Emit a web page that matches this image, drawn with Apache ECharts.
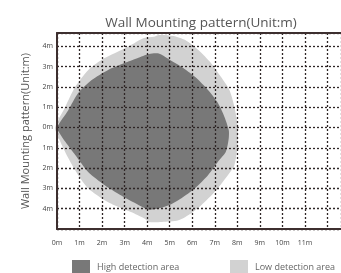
<!DOCTYPE html>
<html>
<head>
<meta charset="utf-8">
<script src="https://cdn.jsdelivr.net/npm/echarts@6/dist/echarts.min.js"></script>
<style>html,body{margin:0;padding:0;background:#fff}#c{width:341px;height:273px}</style>
</head>
<body>
<div id="c"></div>
<script>
const titleText = 'Wall Mounting pattern(Unit:m)';
const xTickLabels = ['0m','1m','2m','3m','4m','5m','6m','7m','8m','9m','10m','11m'];
const yTickLabels = ['4m','3m','2m','1m','0m','1m','2m','3m','4m'];
const seriesNames = ['High detection area', 'Low detection area'];

// outline of the low detection area (x in m, y in m)
const lowArea = [
  [-0.08,0],[0.37,1.02],[0.81,2.0],[1.38,2.82],[1.97,3.32],[2.85,3.81],[3.43,4.15],
  [3.86,4.40],[4.30,4.46],[4.52,4.55],[5.17,4.50],[5.69,4.30],[6.27,3.81],[6.83,3.17],
  [7.27,2.49],[7.65,1.84],[7.87,1.01],[8.01,0.11],[8.01,-0.87],[7.87,-1.86],[7.58,-2.35],
  [7.0,-3.17],[6.40,-3.83],[5.96,-4.22],[5.39,-4.57],[4.65,-4.65],[4.08,-4.65],[3.86,-4.47],
  [3.28,-4.16],[2.55,-3.83],[1.97,-3.48],[1.38,-2.99],[0.94,-2.35],[0.50,-1.51],[0.08,-0.53]
];
// outline of the high detection area
const highArea = [
  [0,0],[0.50,0.85],[0.94,1.69],[1.54,2.33],[2.25,2.82],[2.99,3.17],[3.56,3.41],[4.08,3.62],
  [4.52,3.64],[4.96,3.36],[5.52,2.99],[6.12,2.49],[6.70,1.84],[7.14,1.20],[7.43,0.52],
  [7.62,-0.13],[7.62,-0.53],[7.49,-1.20],[7.14,-1.69],[6.70,-2.35],[6.12,-2.99],[5.52,-3.48],
  [4.96,-3.83],[4.52,-3.98],[4.08,-4.05],[3.56,-3.78],[2.85,-3.35],[2.12,-2.84],[1.38,-2.19],
  [0.81,-1.36],[0.37,-0.71],[0.08,-0.22]
];

const FONT = '"Open Sans", "Noto Sans", sans-serif';
const gridLine = { show: true, lineStyle: { color: '#2e2626', type: [2, 2], width: 1.3 } };
const frameLine = { show: true, onZero: false, lineStyle: { color: '#3d2f2f', width: 2 } };

function polySeries(name, pts, color, z) {
  return {
    name: name,
    type: 'custom',
    z: z,
    itemStyle: { color: color },
    data: pts,
    renderItem: function (params, api) {
      if (params.dataIndex !== 0) return null;
      const points = pts.map(p => api.coord(p));
      return {
        type: 'polygon',
        shape: { points: points, smooth: 0.25 },
        style: { fill: color }
      };
    }
  };
}

const legendText = { fontFamily: FONT, fontSize: 9, color: '#666', padding: [0,0,0,2] };
const chart = echarts.init(document.getElementById('c'), null, { renderer: 'canvas' });
chart.setOption({
  animation: false,
  title: {
    text: titleText, left: 196, top: 11, textAlign: 'center',
    textStyle: { fontFamily: FONT, fontSize: 13.5, fontWeight: 'normal', color: '#555' }
  },
  legend: [
    { data: [seriesNames[0]], left: 67, top: 255, icon: 'rect', itemWidth: 18, itemHeight: 15, textStyle: legendText },
    { data: [seriesNames[1]], left: 225, top: 255, icon: 'rect', itemWidth: 18, itemHeight: 15, textStyle: legendText }
  ],
  grid: { left: 57, top: 33, width: 290, height: 196 },
  xAxis: [{
    type: 'value', min: 0, max: 12.6, interval: 1, z: 5,
    axisLine: frameLine, axisTick: { show: false }, splitLine: gridLine,
    axisLabel: {
      fontFamily: FONT, fontSize: 7, color: '#444', margin: 10,
      showMaxLabel: false,
      formatter: v => (Number.isInteger(v) && v >= 0 && v < xTickLabels.length) ? xTickLabels[v] : ''
    }
  }, {
    type: 'value', position: 'top', min: 0, max: 12.6, z: 6,
    axisLine: frameLine, axisTick: { show: false }, axisLabel: { show: false }, splitLine: { show: false }
  }],
  yAxis: {
    type: 'value', min: -5, max: 4.65, interval: 1, z: 5,
    name: titleText, nameLocation: 'middle', nameGap: 22, nameRotate: 90,
    nameTextStyle: { fontFamily: FONT, fontSize: 11, color: '#555' },
    axisLine: frameLine, axisTick: { show: false }, splitLine: gridLine,
    axisLabel: {
      fontFamily: FONT, fontSize: 7, color: '#444', margin: 4,
      formatter: v => (Number.isInteger(v) && v >= -4 && v <= 4) ? yTickLabels[4 - v] : ''
    }
  },
  series: [
    polySeries(seriesNames[1], lowArea, '#d2d2d2', 1),
    polySeries(seriesNames[0], highArea, '#787878', 2)
  ]
});
</script>
</body>
</html>
